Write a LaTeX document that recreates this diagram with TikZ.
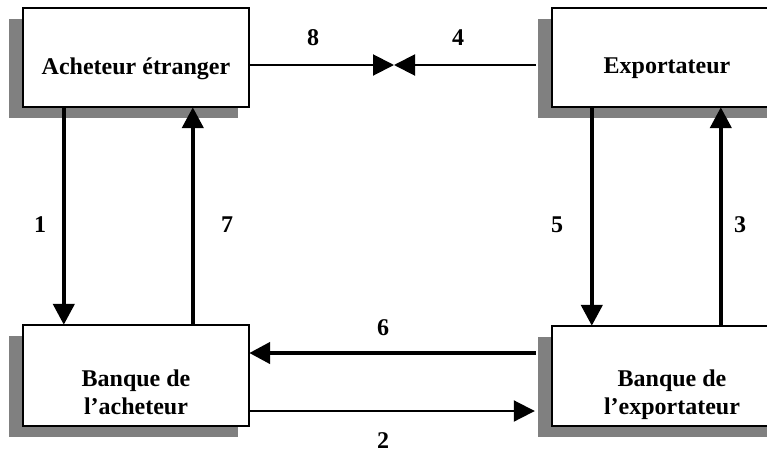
\documentclass[tikz,border=0pt]{standalone}
\usepackage{fontspec}
\setmainfont{Liberation Serif}
\usetikzlibrary{arrows.meta}
\begin{document}
\begin{tikzpicture}[x=1pt,y=-1pt,
  box/.style={draw=black,line width=2pt,fill=white,inner sep=0pt},
  txt/.style={font=\fontsize{24}{28}\selectfont\bfseries,inner sep=0pt,anchor=base},
  num/.style={font=\fontsize{24}{26}\selectfont\bfseries,inner sep=0pt},
  thickarr/.style={line width=4.5pt,-{Triangle[width=21pt,length=21pt]}},
  thinarr/.style={line width=2pt,-{Triangle[width=21pt,length=21pt]}}]
\path[use as bounding box] (0,0) rectangle (767,453);
\clip (0,0) rectangle (767,453);
% box geometry (named nodes, invisible first pass for names)
\path (136,57.5) node[inner sep=0pt,minimum width=226pt,minimum height=99pt] (a) {};
\path (666,57.5) node[inner sep=0pt,minimum width=228pt,minimum height=99pt] (b) {};
\path (136,375.5) node[inner sep=0pt,minimum width=226pt,minimum height=101pt] (c) {};
\path (666,376) node[inner sep=0pt,minimum width=228pt,minimum height=100pt] (d) {};
\coordinate (m) at (394,65);
% shadows
\foreach \n in {a,b,c,d}{
  \fill[black!50] ([xshift=-14pt,yshift=-11pt]\n.south west) rectangle ([xshift=-11pt,yshift=-11pt]\n.north east);
}
% boxes
\node[box,minimum width=226pt,minimum height=99pt] at (a) {};
\node[box,minimum width=228pt,minimum height=99pt] at (b) {};
\node[box,minimum width=226pt,minimum height=101pt] at (c) {};
\node[box,minimum width=228pt,minimum height=100pt] at (d) {};
% connectors
\draw[thickarr] ([xshift=41pt]a.south west) -- ([xshift=41pt]c.north west);
\draw[thickarr] ([xshift=170pt]c.north west) -- ([xshift=170pt]a.south west);
\draw[thickarr] ([xshift=40pt]b.south west) -- ([xshift=40pt]d.north west);
\draw[thickarr] ([xshift=169pt]d.north west) -- ([xshift=169pt]b.south west);
\draw[thinarr] ([yshift=-7.5pt]a.east) -- (m);
\draw[thinarr] ([xshift=-16pt,yshift=-7.5pt]b.west) -- (m);
\draw[thickarr] ([xshift=-16pt,yshift=23pt]d.west) -- ([yshift=22.5pt]c.east);
\draw[thinarr,shorten >=17pt] ([yshift=-35.5pt]c.east) -- ([yshift=-35pt]d.west);
% texts
\node[txt] (ta) at (136,74) {Acheteur étranger};
\node[txt] (tb) at (667,73) {Exportateur};
\node[txt] (tc1) at (136,386) {Banque de};
\node[txt] (tc2) at (136,414) {l’acheteur};
\node[txt] (td1) at (672,386) {Banque de};
\node[txt] (td2) at (672,414) {l’exportateur};
% numbers
\node[num] (n8) at (313,38) {8};
\node[num] (n4) at (458,38) {4};
\node[num] (n1) at (40,225) {1};
\node[num] (n7) at (227,225) {7};
\node[num] (n5) at (557,225) {5};
\node[num] (n3) at (740,225) {3};
\node[num] (n6) at (383,328) {6};
\node[num] (n2) at (383,441) {2};
\end{tikzpicture}
\end{document}
